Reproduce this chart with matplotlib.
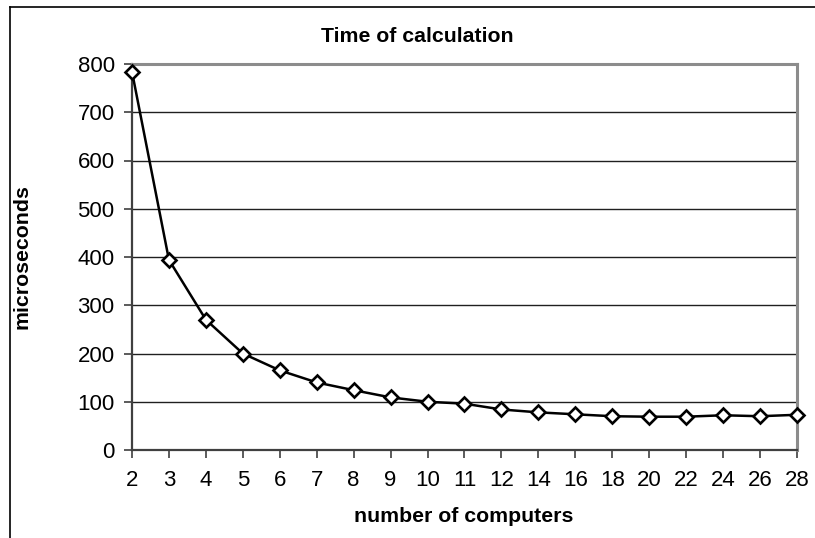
import matplotlib
matplotlib.use("Agg")
import matplotlib.pyplot as plt
from matplotlib.lines import Line2D

# number of computers (category axis, evenly spaced)
computers = ["2", "3", "4", "5", "6", "7", "8", "9", "10", "11", "12",
             "14", "16", "18", "20", "22", "24", "26", "28"]
# time of calculation in microseconds
times = [784, 394, 270, 200, 165, 140, 124, 109, 100, 96, 84,
         78, 74, 70, 69, 69, 72, 70, 73]
y_ticks = [0, 100, 200, 300, 400, 500, 600, 700, 800]

plt.rcParams['font.family'] = ['Liberation Sans', 'DejaVu Sans']

W, H = 815, 538
fig = plt.figure(figsize=(W / 100, H / 100), dpi=100)
ax = fig.add_axes([132 / W, 1 - 450 / H, (797 - 132) / W, (450 - 64) / H])

pos = list(range(len(computers)))
ax.plot(pos, times, color='black', lw=1.8, marker='D', ms=7.6,
        mfc='white', mec='black', mew=1.9, clip_on=False, zorder=5)

ax.set_xlim(0, len(computers) - 1)
ax.set_ylim(0, 800)
ax.set_xticks(pos)
ax.set_xticklabels(computers)
ax.set_yticks(y_ticks)

# horizontal gridlines
for v in y_ticks[1:-1]:
    ax.axhline(v, color='#202020', lw=1.0, zorder=1)

ax.spines['left'].set_color('#404040')
ax.spines['bottom'].set_color('#404040')
ax.spines['left'].set_linewidth(1.6)
ax.spines['bottom'].set_linewidth(1.6)
ax.spines['top'].set_color('#8c8c8c')
ax.spines['right'].set_color('#8c8c8c')
ax.spines['top'].set_linewidth(2.2)
ax.spines['right'].set_linewidth(2.2)

ax.tick_params(axis='both', labelsize=16, color='#404040', width=1.2,
               length=5.5, direction='out')
ax.tick_params(axis='x', pad=9)
ax.tick_params(axis='y', pad=7)

fig.text(417 / W, 1 - 36 / H, "Time of calculation", ha='center',
         va='center', fontsize=15.3, fontweight='bold')
fig.text(464 / W, 1 - 517 / H, "number of computers", ha='center',
         va='center', fontsize=15.3, fontweight='bold')
fig.text(22 / W, 1 - 257 / H, "microseconds", ha='center', va='center',
         rotation=90, fontsize=15.3, fontweight='bold')

# outer chart frame (cropped on right and bottom)
fig.add_artist(Line2D([10 / W, 1.0], [1 - 7 / H, 1 - 7 / H],
                      transform=fig.transFigure, color='black', lw=1.2))
fig.add_artist(Line2D([10 / W, 10 / W], [0.0, 1 - 7 / H],
                      transform=fig.transFigure, color='black', lw=1.2))

fig.savefig("out.png", dpi=100)
